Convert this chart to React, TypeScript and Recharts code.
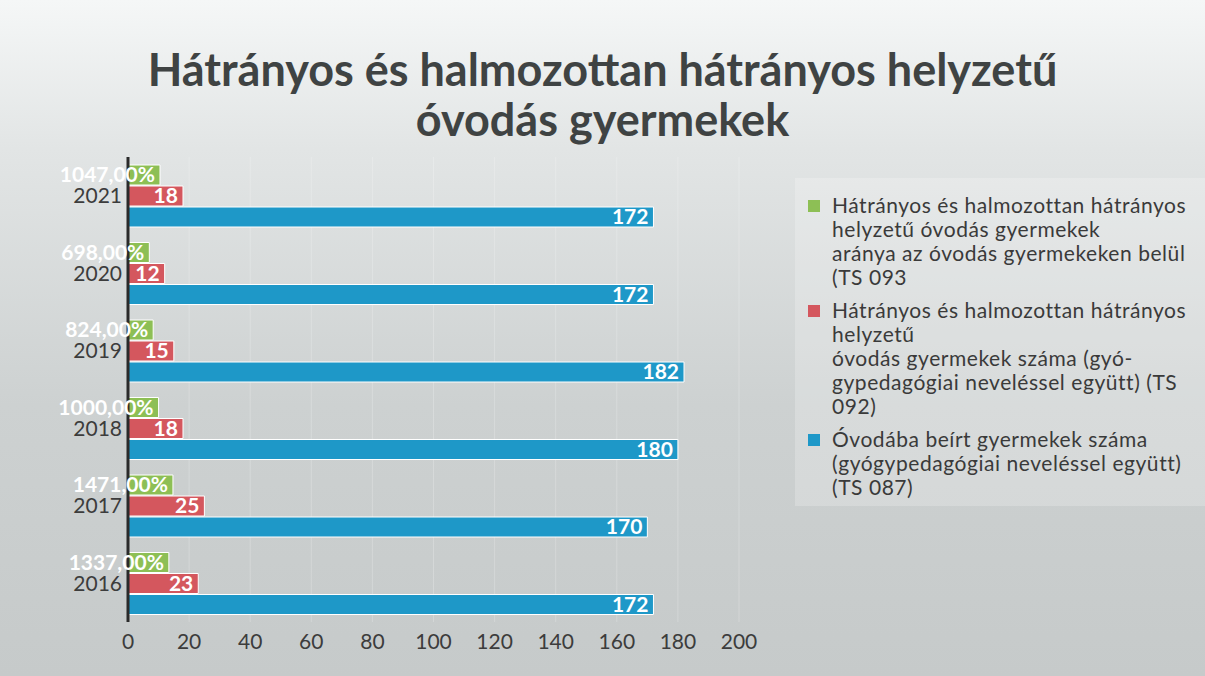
import React from 'react';
import { BarChart, Bar, XAxis, YAxis, CartesianGrid, Legend, LabelList } from 'recharts';

const years = ['2021', '2020', '2019', '2018', '2017', '2016'];
// green series: ratio (labels print it x100)
const ratio = [10.47, 6.98, 8.24, 10.0, 14.71, 13.37];
const disadvantaged = [18, 12, 15, 18, 25, 23];
const enrolled = [172, 172, 182, 180, 170, 172];
const xTicks = [0, 20, 40, 60, 80, 100, 120, 140, 160, 180, 200];

const seriesInfo = [
  {
    key: 'ratio',
    color: '#8dbf55',
    lines: [
      'Hátrányos és halmozottan hátrányos',
      'helyzetű óvodás gyermekek',
      'aránya az óvodás gyermekeken belül',
      '(TS 093',
    ],
  },
  {
    key: 'disadvantaged',
    color: '#d4575e',
    lines: [
      'Hátrányos és halmozottan hátrányos',
      'helyzetű',
      'óvodás gyermekek száma (gyó-',
      'gypedagógiai neveléssel együtt) (TS',
      '092)',
    ],
  },
  {
    key: 'enrolled',
    color: '#1e98c8',
    lines: [
      'Óvodába beírt gyermekek száma',
      '(gyógypedagógiai neveléssel együtt)',
      '(TS 087)',
    ],
  },
];

const data = years.map((year, i) => ({
  year,
  ratio: ratio[i],
  disadvantaged: disadvantaged[i],
  enrolled: enrolled[i],
}));

const FONT = 'Lato, "Open Sans", sans-serif';

const formatRatio = (v: any) => (Number(v) * 100).toFixed(2).replace('.', ',') + '%';

const labelStyle = { fill: '#ffffff', fontWeight: 700, fontSize: 21, fontFamily: FONT };

const renderLegend = () => (
  <div style={{ fontFamily: FONT, fontSize: 21, letterSpacing: 0.55, color: '#3a3a3a', lineHeight: '24px', textAlign: 'left' }}>
    {seriesInfo.map((s) => (
      <div key={s.key} style={{ display: 'flex', marginBottom: 9 }}>
        <div style={{ width: 12, height: 12, background: s.color, marginTop: 7, marginRight: 12, flexShrink: 0 }} />
        <div>
          {s.lines.map((l, i) => (
            <div key={i} style={{ whiteSpace: 'nowrap' }}>{l}</div>
          ))}
        </div>
      </div>
    ))}
  </div>
);

export default function App() {
  return (
    <div
      style={{
        position: 'absolute',
        left: 0,
        top: 0,
        width: 1205,
        height: 676,
        background: 'linear-gradient(to bottom, #f5f7f7 0%, #e2e5e5 22%, #cdd1d1 60%, #c6caca 100%)',
        overflow: 'hidden',
      }}
    >
      <div
        style={{
          position: 'absolute',
          left: 795,
          top: 178,
          width: 410,
          height: 328,
          background: 'rgba(255,255,255,0.22)',
        }}
      />
      <div
        style={{
          position: 'absolute',
          left: 0,
          top: 44,
          width: 1205,
          textAlign: 'center',
          fontFamily: FONT,
          fontWeight: 700,
          fontSize: 45,
          lineHeight: '50px',
          color: '#3f4343',
        }}
      >
        Hátrányos és halmozottan hátrányos helyzetű
        <br />
        óvodás gyermekek
      </div>
      <BarChart
        width={1205}
        height={676}
        data={data}
        layout="vertical"
        margin={{ top: 157, right: 466, left: 8, bottom: 24 }}
        barCategoryGap="10%"
        barGap={1}
        style={{ position: 'absolute', left: 0, top: 0 }}
      >
        <CartesianGrid horizontal={false} stroke="#ffffff" strokeOpacity={0.22} strokeWidth={1} />
        <XAxis
          type="number"
          domain={[0, 200]}
          ticks={xTicks}
          axisLine={false}
          tickLine={false}
          height={30}
          tickSize={6}
          tickMargin={6}
          tick={{ fill: '#3c3c3c', fontSize: 21, fontFamily: FONT }}
          interval={0}
        />
        <YAxis
          type="category"
          dataKey="year"
          width={120}
          axisLine={{ stroke: '#2a2a2a', strokeWidth: 3 }}
          tickLine={false}
          tickSize={0}
          tickMargin={6}
          tick={{ fill: '#3c3c3c', fontSize: 21, fontFamily: FONT }}
        />
        <Legend
          layout="horizontal"
          verticalAlign="middle"
          align="center"
          content={renderLegend}
          wrapperStyle={{ position: 'absolute', left: 808, top: 193, width: 400 }}
        />
        <Bar dataKey="ratio" fill={seriesInfo[0].color} stroke="#ffffff" strokeWidth={1} barSize={20} isAnimationActive={false}>
          <LabelList dataKey="ratio" position="insideRight" formatter={formatRatio} style={labelStyle} />
        </Bar>
        <Bar dataKey="disadvantaged" fill={seriesInfo[1].color} stroke="#ffffff" strokeWidth={1} barSize={20} isAnimationActive={false}>
          <LabelList dataKey="disadvantaged" position="insideRight" style={labelStyle} />
        </Bar>
        <Bar dataKey="enrolled" fill={seriesInfo[2].color} stroke="#ffffff" strokeWidth={1} barSize={20} isAnimationActive={false}>
          <LabelList dataKey="enrolled" position="insideRight" style={labelStyle} />
        </Bar>
      </BarChart>
    </div>
  );
}
